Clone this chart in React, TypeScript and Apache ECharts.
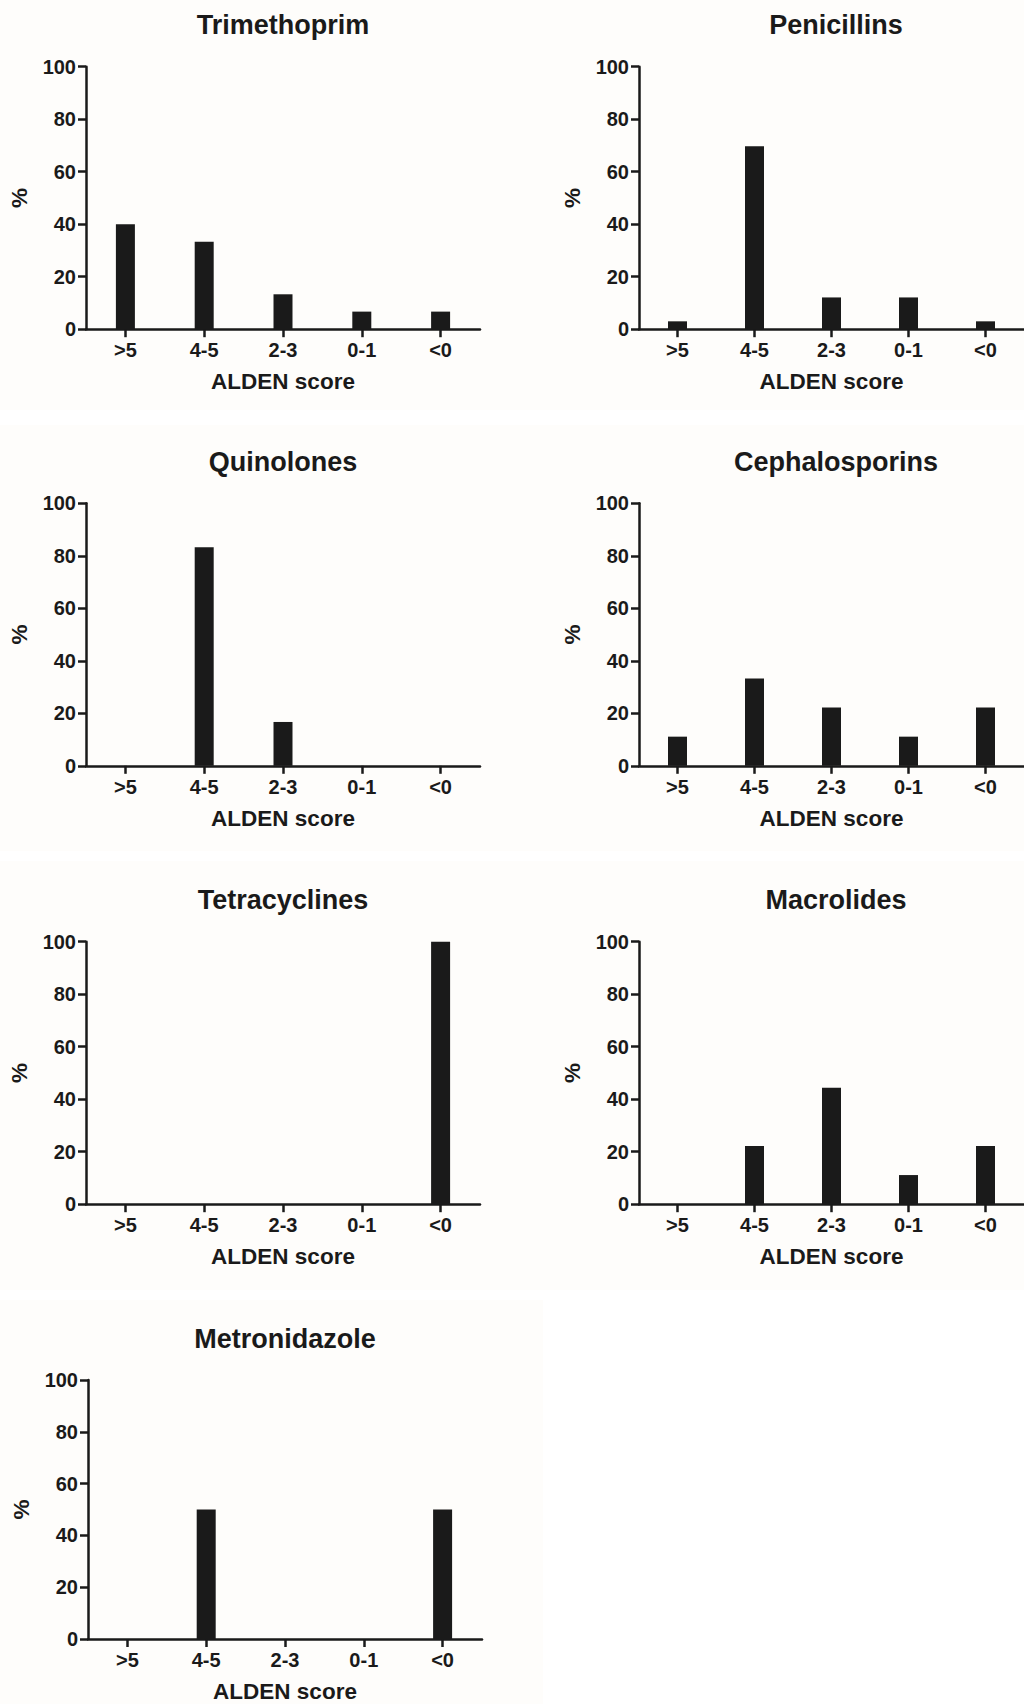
import React, { useEffect, useRef } from "react";
import * as echarts from "echarts";

const categories = [">5", "4-5", "2-3", "0-1", "<0"];
const panelNames = [
  "Trimethoprim",
  "Penicillins",
  "Quinolones",
  "Cephalosporins",
  "Tetracyclines",
  "Macrolides",
  "Metronidazole",
];
const trimethoprim = [40.0, 33.3, 13.3, 6.7, 6.7];
const penicillins = [3.0, 69.7, 12.1, 12.1, 3.0];
const quinolones = [0, 83.3, 16.7, 0, 0];
const cephalosporins = [11.1, 33.3, 22.2, 11.1, 22.2];
const tetracyclines = [0, 0, 0, 0, 100];
const macrolides = [0, 22.2, 44.4, 11.1, 22.2];
const metronidazole = [0, 50, 0, 0, 50];
const seriesValues = [
  trimethoprim,
  penicillins,
  quinolones,
  cephalosporins,
  tetracyclines,
  macrolides,
  metronidazole,
];
const yMin = 0;
const yMax = 100;
const yStep = 20;
const xTitle = "ALDEN score";
const yTitle = "%";

// layout (pixels)
const layout = [
  { left: 86, top: 66.7 },
  { left: 639, top: 66.7 },
  { left: 86, top: 503.3 },
  { left: 639, top: 503.3 },
  { left: 86, top: 941.7 },
  { left: 639, top: 941.7 },
  { left: 88, top: 1380 },
];
const GRID_W = 394;
const GRID_H = 262.5;
const INK = "#1a1a1a";
const FONT = "Liberation Sans, Arial, Helvetica, sans-serif";
const BG = "#fefdfb";

export default function App() {
  const ref = useRef<HTMLDivElement>(null);
  useEffect(() => {
    if (!ref.current) return;
    const chart = echarts.init(ref.current, undefined, { renderer: "svg" });
    const grids = layout.map((l) => ({
      left: l.left,
      top: l.top,
      width: GRID_W,
      height: GRID_H,
      containLabel: false,
    }));
    const xAxes = layout.map((_, i) => ({
      type: "category",
      gridIndex: i,
      data: categories,
      boundaryGap: true,
      axisLine: { show: true, lineStyle: { color: INK, width: 2.5 } },
      axisTick: {
        show: true,
        alignWithLabel: true,
        length: 8,
        lineStyle: { color: INK, width: 2.5 },
      },
      axisLabel: {
        color: INK,
        fontSize: 20,
        fontWeight: "bold",
        fontFamily: FONT,
        margin: 11,
      },
      name: xTitle,
      nameLocation: "middle",
      nameGap: 41,
      nameTextStyle: {
        color: INK,
        fontSize: 22.5,
        fontWeight: "bold",
        fontFamily: FONT,
      },
      splitLine: { show: false },
    }));
    const yAxes = layout.map((_, i) => ({
      type: "value",
      gridIndex: i,
      min: yMin,
      max: yMax,
      interval: yStep,
      axisLine: { show: true, lineStyle: { color: INK, width: 2.5 } },
      axisTick: { show: true, length: 8, lineStyle: { color: INK, width: 2.5 } },
      axisLabel: {
        color: INK,
        fontSize: 20,
        fontWeight: "bold",
        fontFamily: FONT,
        margin: 10,
      },
      splitLine: { show: false },
      name: yTitle,
      nameLocation: "middle",
      nameGap: 55,
      nameRotate: 90,
      nameTextStyle: {
        color: INK,
        fontSize: 22.5,
        fontWeight: "bold",
        fontFamily: FONT,
      },
    }));
    const series = seriesValues.map((vals, i) => ({
      type: "bar",
      name: panelNames[i],
      xAxisIndex: i,
      yAxisIndex: i,
      data: vals,
      barWidth: 19,
      itemStyle: { color: INK },
    }));
    const titles = panelNames.map((name, i) => ({
      text: name,
      left: layout[i].left + GRID_W / 2,
      top: layout[i].top - 55,
      textAlign: "center",
      padding: 0,
      textStyle: {
        color: INK,
        fontSize: 27,
        fontWeight: "bold",
        fontFamily: FONT,
      },
    }));
    const bgRects = [
      { x: 0, y: 0, w: 1024, h: 410 },
      { x: 0, y: 425, w: 1024, h: 426 },
      { x: 0, y: 861, w: 1024, h: 429 },
      { x: 0, y: 1300, w: 543, h: 404 },
    ].map((r) => ({
      type: "rect",
      silent: true,
      z: -10,
      shape: { x: r.x, y: r.y, width: r.w, height: r.h },
      style: { fill: BG },
    }));
    chart.setOption({
      animation: false,
      backgroundColor: "#ffffff",
      graphic: { elements: bgRects },
      title: titles,
      grid: grids,
      xAxis: xAxes,
      yAxis: yAxes,
      series,
    });
    return () => chart.dispose();
  }, []);
  return (
    <div
      ref={ref}
      style={{ position: "absolute", left: 0, top: 0, width: 1024, height: 1704 }}
    />
  );
}
